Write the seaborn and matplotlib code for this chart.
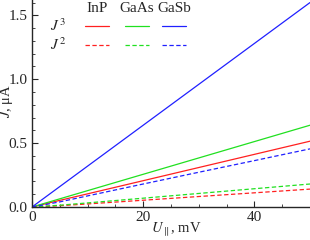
import numpy as np
import pandas as pd
import matplotlib.pyplot as plt
from matplotlib.lines import Line2D
from matplotlib.ticker import MultipleLocator
import seaborn as sns

# Valores (U em mV, J em uA)
u = [0, 5, 10, 20, 30, 40, 50]
inp_j3 = [0, 0.052, 0.103, 0.206, 0.309, 0.412, 0.515]
gaas_j3 = [0, 0.064, 0.128, 0.256, 0.384, 0.512, 0.640]
gasb_j3 = [0, 0.160, 0.320, 0.640, 0.960, 1.280, 1.600]
inp_j2 = [0, 0.010, 0.024, 0.053, 0.082, 0.111, 0.140]
gaas_j2 = [0, 0.014, 0.032, 0.069, 0.106, 0.143, 0.180]
gasb_j2 = [0, 0.040, 0.087, 0.180, 0.272, 0.363, 0.455]

materials = ['InP', 'GaAs', 'GaSb']
colors = {'InP': '#ff2020', 'GaAs': '#20e020', 'GaSb': '#2020ff'}

rows = []
for mat, j3, j2 in zip(materials, [inp_j3, gaas_j3, gasb_j3], [inp_j2, gaas_j2, gasb_j2]):
    for x, a, b in zip(u, j3, j2):
        rows.append({'U': x, 'J': a, 'mat': mat, 'kind': 'J3'})
        rows.append({'U': x, 'J': b, 'mat': mat, 'kind': 'J2'})
df = pd.DataFrame(rows)

sns.set_style('ticks')
plt.rcParams['font.family'] = ['Liberation Serif', 'DejaVu Serif']
plt.rcParams['mathtext.fontset'] = 'stix'

fig = plt.figure(figsize=(3.1, 2.4), dpi=100)
ax = fig.add_axes([32 / 310, 33 / 240, 278 / 310, 207 / 240])

for mat in materials:
    sub = df[df['mat'] == mat]
    sns.lineplot(data=sub[sub['kind'] == 'J3'], x='U', y='J', color=colors[mat],
                 lw=0.9, ax=ax, legend=False)
    sns.lineplot(data=sub[sub['kind'] == 'J2'], x='U', y='J', color=colors[mat],
                 lw=0.9, ls=(0, (3.5, 2)), ax=ax, legend=False)

ax.set_xlim(0, 50)
ax.set_ylim(0, 1.62)
ax.xaxis.set_major_locator(MultipleLocator(20))
ax.xaxis.set_minor_locator(MultipleLocator(5))
ax.yaxis.set_major_locator(MultipleLocator(0.5))
ax.yaxis.set_minor_locator(MultipleLocator(0.1))
ax.yaxis.set_major_formatter(plt.FormatStrFormatter('%.1f'))
ax.tick_params(which='both', direction='in', labelsize=11, pad=3)
ax.tick_params(which='major', length=4, width=0.8)
ax.tick_params(which='minor', length=2, width=0.6)
for s in ['top', 'right']:
    ax.spines[s].set_visible(False)
for s in ['left', 'bottom']:
    ax.spines[s].set_linewidth(1.0)

tr = ax.transAxes
def px(x, y):
    return ((x - 32) / 278, (207 - y) / 207)

ax.set_xlabel(r'$U_{\parallel}$, mV', fontsize=10.5, va='center')
ax.xaxis.set_label_coords(*px(176, 229))
ax.set_ylabel(r'$J$, μA', fontsize=10.5, va='center')
ax.yaxis.set_label_coords(*px(7, 101))

# legenda em tabela
for mat, xc in zip(materials, [97, 137, 174]):
    ax.text(*px(xc, 9), mat, transform=tr, ha='center', va='center', fontsize=11)
    x0, _ = px(xc - 12, 0)
    x1, _ = px(xc + 12, 0)
    for yy, ls in [(26, '-'), (45, (0, (3.5, 2)))]:
        _, y0 = px(0, yy)
        ax.add_line(Line2D([x0, x1], [y0, y0], transform=tr, color=colors[mat],
                           lw=0.9, ls=ls))
ax.text(*px(58, 26), r'$J^{\,3}$', transform=tr, ha='center', va='center', fontsize=11)
ax.text(*px(58, 45), r'$J^{\,2}$', transform=tr, ha='center', va='center', fontsize=11)

fig.savefig('out.png', dpi=100)
